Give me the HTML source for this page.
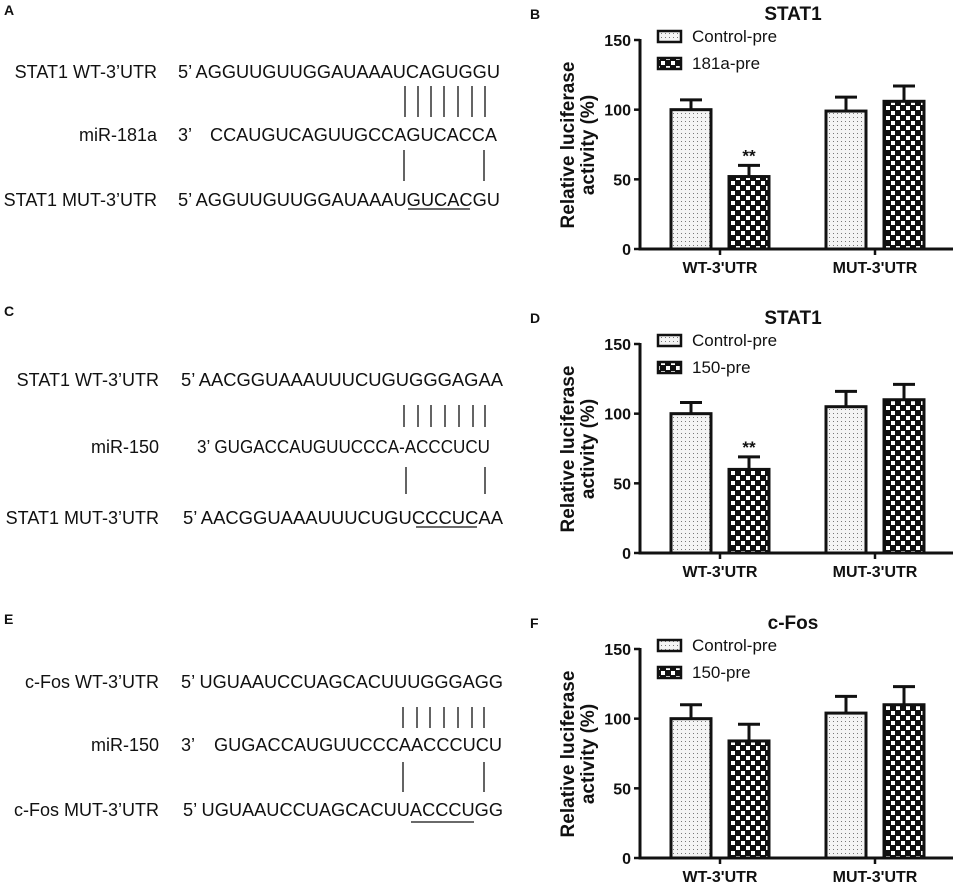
<!DOCTYPE html>
<html><head><meta charset="utf-8"><style>
html,body{margin:0;padding:0;background:#fff}
svg{display:block;font-family:"Liberation Sans",Arial,sans-serif}
.seq{font-size:18px;fill:#111}
.pl{font-size:14px;font-weight:bold;fill:#111}
</style></head><body>
<svg id="fig" width="955" height="882" viewBox="0 0 955 882" xmlns="http://www.w3.org/2000/svg">
<defs>
<pattern id="dots" width="4" height="4" patternUnits="userSpaceOnUse"><rect width="4" height="4" fill="#f4f4f4"/><rect x="1" y="1" width="1" height="1" fill="#777"/></pattern>
<pattern id="checks" width="10" height="10" patternUnits="userSpaceOnUse"><rect width="10" height="10" fill="#111"/><rect x="1" y="1" width="4" height="4" fill="#fff"/><rect x="6" y="6" width="4" height="4" fill="#fff"/></pattern>
</defs>

<!-- Panel A -->
<g>
<text class="pl" x="4" y="15">A</text>
<text class="seq" x="157" y="78" text-anchor="end">STAT1 WT-3’UTR</text>
<text class="seq" x="178" y="78" textLength="322" lengthAdjust="spacingAndGlyphs">5’ AGGUUGUUGGAUAAAUCAGUGGU</text>
<text class="seq" x="157" y="141" text-anchor="end">miR-181a</text>
<text class="seq" x="178" y="141">3’</text>
<text class="seq" x="210" y="141" textLength="287" lengthAdjust="spacingAndGlyphs">CCAUGUCAGUUGCCAGUCACCA</text>
<text class="seq" x="157" y="206" text-anchor="end">STAT1 MUT-3’UTR</text>
<text class="seq" x="178" y="206" textLength="322" lengthAdjust="spacingAndGlyphs">5’ AGGUUGUUGGAUAAAUGUCACGU</text>
<line x1="408" y1="209" x2="470" y2="209" stroke="#111" stroke-width="1.3"/>
<g stroke="#111" stroke-width="1.3">
<line x1="405" y1="86" x2="405" y2="117"/><line x1="418" y1="86" x2="418" y2="117"/><line x1="431" y1="86" x2="431" y2="117"/><line x1="444" y1="86" x2="444" y2="117"/><line x1="458" y1="86" x2="458" y2="117"/><line x1="472" y1="86" x2="472" y2="117"/><line x1="485" y1="86" x2="485" y2="117"/>
<line x1="404" y1="150" x2="404" y2="181"/><line x1="484" y1="150" x2="484" y2="181"/>
</g>
</g>

<!-- Panel C -->
<g>
<text class="pl" x="4" y="316">C</text>
<text class="seq" x="159" y="386" text-anchor="end">STAT1 WT-3’UTR</text>
<text class="seq" x="181" y="386" textLength="322" lengthAdjust="spacingAndGlyphs">5’ AACGGUAAAUUUCUGUGGGAGAA</text>
<text class="seq" x="159" y="453" text-anchor="end">miR-150</text>
<text class="seq" x="197" y="453" textLength="293" lengthAdjust="spacingAndGlyphs">3’ GUGACCAUGUUCCCA-ACCCUCU</text>
<text class="seq" x="159" y="524" text-anchor="end">STAT1 MUT-3’UTR</text>
<text class="seq" x="183" y="524" textLength="320" lengthAdjust="spacingAndGlyphs">5’ AACGGUAAAUUUCUGUCCCUCAA</text>
<line x1="416" y1="527" x2="477" y2="527" stroke="#111" stroke-width="1.3"/>
<g stroke="#111" stroke-width="1.3">
<line x1="404" y1="405" x2="404" y2="427"/><line x1="418" y1="405" x2="418" y2="427"/><line x1="431" y1="405" x2="431" y2="427"/><line x1="445" y1="405" x2="445" y2="427"/><line x1="459" y1="405" x2="459" y2="427"/><line x1="473" y1="405" x2="473" y2="427"/><line x1="485" y1="405" x2="485" y2="427"/>
<line x1="406" y1="467" x2="406" y2="494"/><line x1="485" y1="467" x2="485" y2="494"/>
</g>
</g>

<!-- Panel E -->
<g>
<text class="pl" x="4" y="624">E</text>
<text class="seq" x="159" y="688" text-anchor="end">c-Fos WT-3’UTR</text>
<text class="seq" x="181" y="688" textLength="322" lengthAdjust="spacingAndGlyphs">5’ UGUAAUCCUAGCACUUUGGGAGG</text>
<text class="seq" x="159" y="751" text-anchor="end">miR-150</text>
<text class="seq" x="181" y="751">3’</text>
<text class="seq" x="214" y="751" textLength="288" lengthAdjust="spacingAndGlyphs">GUGACCAUGUUCCCAACCCUCU</text>
<text class="seq" x="159" y="816" text-anchor="end">c-Fos MUT-3’UTR</text>
<text class="seq" x="183" y="816" textLength="320" lengthAdjust="spacingAndGlyphs">5’ UGUAAUCCUAGCACUUACCCUGG</text>
<line x1="411" y1="822" x2="474" y2="822" stroke="#111" stroke-width="1.3"/>
<g stroke="#111" stroke-width="1.3">
<line x1="403" y1="707" x2="403" y2="728"/><line x1="417" y1="707" x2="417" y2="728"/><line x1="430" y1="707" x2="430" y2="728"/><line x1="444" y1="707" x2="444" y2="728"/><line x1="458" y1="707" x2="458" y2="728"/><line x1="472" y1="707" x2="472" y2="728"/><line x1="484" y1="707" x2="484" y2="728"/>
<line x1="403" y1="762" x2="403" y2="792"/><line x1="484" y1="762" x2="484" y2="792"/>
</g>
</g>
<g id="charts"></g>
</svg>
<script>
const categories = ["WT-3'UTR", "MUT-3'UTR"];
const yTicks = [0, 50, 100, 150];
const bControl = [100, 99];
const bControlErr = [7, 10];
const bTreat = [52, 106];
const bTreatErr = [8, 11];
const dControl = [100, 105];
const dControlErr = [8, 11];
const dTreat = [60, 110];
const dTreatErr = [9, 11];
const fControl = [100, 104];
const fControlErr = [10, 12];
const fTreat = [84, 110];
const fTreatErr = [12, 13];

const NS = "http://www.w3.org/2000/svg";
const root = document.getElementById('charts');
function mk(tag, attrs, parent) {
  const e = document.createElementNS(NS, tag);
  for (const k in attrs) e.setAttribute(k, attrs[k]);
  parent.appendChild(e);
  return e;
}
function drawChart(key, y0, letter, title, treatName, ctrl, ctrlErr, trt, trtErr, stars) {
  const g = mk('g', {}, root);
  
  
  const axX = 640, axEnd = 953, yMax = 150, h = 209;
  const yS = v => y0 - v * h / yMax;
  const cx = [720, 875];
  const lab = mk('text', {x: 530, y: y0 - 230, 'font-size': 14, 'font-weight': 'bold', fill: '#111'}, g);
  lab.textContent = letter;
  
  
  const t = mk('text', {x: 793, y: y0 - 229, 'font-size': 19, 'font-weight': 'bold', 'text-anchor': 'middle', fill: '#111'}, g);
  t.textContent = title;
  
  
  // y axis title
  const yt = mk('text', {transform: 'translate(584,' + (y0 - 104) + ') rotate(-90)', 'font-size': 19, 'font-weight': 'bold', 'text-anchor': 'middle', fill: '#111'}, g);
  
  
  const t1 = mk('tspan', {x: 0, y: -10}, yt); t1.textContent = 'Relative luciferase';
  const t2 = mk('tspan', {x: 0, y: 10}, yt); t2.textContent = 'activity (%)';
  // axes
  const ya = mk('line', {x1: axX, y1: yS(yMax) - 1, x2: axX, y2: y0 + 1.5, stroke: '#111', 'stroke-width': 3}, g);
  
  
  const xa = mk('line', {x1: axX, y1: y0, x2: axEnd, y2: y0, stroke: '#111', 'stroke-width': 3}, g);
  
  
  yTicks.forEach(v => {
    const tk = mk('line', {x1: axX - 6, y1: yS(v), x2: axX, y2: yS(v), stroke: '#111', 'stroke-width': 2.5}, g);
    
    
    const tl = mk('text', {x: axX - 9, y: yS(v) + 6, 'font-size': 16, 'font-weight': 'bold', 'text-anchor': 'end', fill: '#111'}, g);
    tl.textContent = v;
    
    
  });
  categories.forEach((c, i) => {
    const tk = mk('line', {x1: cx[i], y1: y0, x2: cx[i], y2: y0 + 6, stroke: '#111', 'stroke-width': 2.5}, g);
    
    
    const tl = mk('text', {x: cx[i], y: y0 + 24, 'font-size': 16, 'font-weight': 'bold', 'text-anchor': 'middle', fill: '#111'}, g);
    tl.textContent = c;
    
    
    const series = [[ctrl[i], ctrlErr[i], 'url(#dots)', cx[i] - 49, 'control'], [trt[i], trtErr[i], 'url(#checks)', cx[i] + 9, 'treatment']];
    series.forEach(s => {
      const bw = 40, bx = s[3], top = yS(s[0]), etop = yS(s[0] + s[1]);
      const el = mk('line', {x1: bx + bw / 2, y1: top, x2: bx + bw / 2, y2: etop, stroke: '#111', 'stroke-width': 3}, g);
      
      
      const ec = mk('line', {x1: bx + bw / 2 - 11, y1: etop, x2: bx + bw / 2 + 11, y2: etop, stroke: '#111', 'stroke-width': 3}, g);
      
      
      const r = mk('rect', {x: bx, y: top, width: bw, height: y0 - top, fill: s[2], stroke: '#111', 'stroke-width': 3}, g);
      
      
    });
  });
  if (stars) {
    const st = mk('text', {x: cx[0] + 29, y: yS(trt[0] + trtErr[0]) - 4, 'font-size': 17, 'font-weight': 'bold', 'text-anchor': 'middle', fill: '#111'}, g);
    st.textContent = '**';
    
    
  }
  // legend
  const names = ['Control-pre', treatName], fills = ['url(#dots)', 'url(#checks)'];
  names.forEach((n, k) => {
    const ly = y0 - 218 + k * 27;
    const lg = mk('g', {}, g);
    
    
    mk('rect', {x: 658, y: ly, width: 23, height: 11, fill: fills[k], stroke: '#111', 'stroke-width': 2.5}, lg);
    const lt = mk('text', {x: 692, y: ly + 11, 'font-size': 17, fill: '#111'}, lg);
    lt.textContent = n;
  });
}
drawChart('b', 249, 'B', 'STAT1', '181a-pre', bControl, bControlErr, bTreat, bTreatErr, true);
drawChart('d', 553, 'D', 'STAT1', '150-pre', dControl, dControlErr, dTreat, dTreatErr, true);
drawChart('f', 858, 'F', 'c-Fos', '150-pre', fControl, fControlErr, fTreat, fTreatErr, false);
</script>
</body></html>
